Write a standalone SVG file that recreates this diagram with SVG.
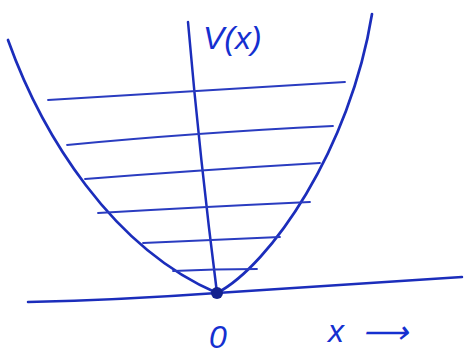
<svg xmlns="http://www.w3.org/2000/svg" width="470" height="359" viewBox="0 0 470 359">
<style>
.ink{fill:none;stroke:#1b2dbb;stroke-linecap:round;stroke-linejoin:round}
.curve{stroke-width:2.7}
.axis{stroke-width:2.5}
.lvl{stroke-width:1.8;stroke:#2a3cc0}
.lbl{font-family:"Liberation Sans",Arial,sans-serif;fill:#1530d0;font-style:italic}
</style>
<rect width="470" height="359" fill="#ffffff"/>
<g id="connectors">
<path class="ink axis" d="M188,22 Q200,160 217,293"/>
<path class="ink axis" d="M28,302 Q120,300 217,293 L462,277"/>
</g>
<g id="potential">
<path class="ink curve" d="M8,40 C42,135 112,248 217,293"/>
<path class="ink curve" d="M217,293 C270,265 350,150 372,14"/>
</g>
<g id="levels">
<path class="ink lvl" d="M48,100 Q180,92 345,82"/>
<path class="ink lvl" d="M67,145 Q190,133 333,126"/>
<path class="ink lvl" d="M85,179 Q200,170 320,163"/>
<path class="ink lvl" d="M98,213 Q200,207 310,202"/>
<path class="ink lvl" d="M143,243 Q210,240 280,237"/>
<path class="ink lvl" d="M173,271 Q215,269 257,269"/>
</g>
<g id="origin">
<circle cx="217" cy="293" r="6" fill="#14228f"/>
</g>
<g id="labels">
<text class="lbl" x="203" y="49" font-size="32">V(x)</text>
<text class="lbl" x="209" y="348" font-size="32">0</text>
<text class="lbl" x="328" y="342" font-size="32">x</text>
<text class="lbl" x="362" y="343" font-size="32" font-style="normal">⟶</text>
</g>
</svg>
